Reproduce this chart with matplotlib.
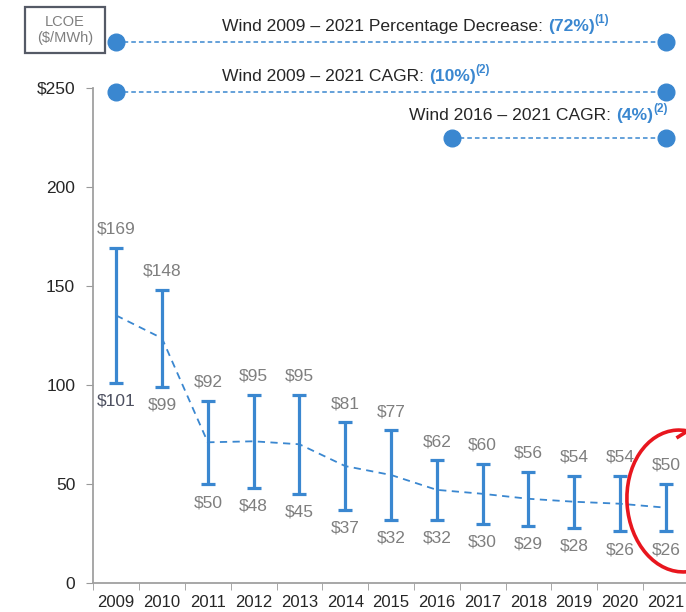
import matplotlib
matplotlib.use("Agg")
import matplotlib.pyplot as plt
import matplotlib.transforms as mtransforms
from matplotlib.patches import Ellipse, Rectangle

plt.rcParams['font.family'] = ['Liberation Sans', 'DejaVu Sans']

# LCOE range per year ($/MWh)
years = ['2009', '2010', '2011', '2012', '2013', '2014', '2015',
         '2016', '2017', '2018', '2019', '2020', '2021']
high = [169, 148, 92, 95, 95, 81, 77, 62, 60, 56, 54, 54, 50]
low = [101, 99, 50, 48, 45, 37, 32, 32, 30, 29, 28, 26, 26]
mid = [135, 123.5, 71, 71.5, 70, 59, 54.5, 47, 45, 42.5, 41, 40, 38]

yticks = [0, 50, 100, 150, 200, 250]
ytick_labels = ['0', '50', '100', '150', '200', '$250']

# summary lines above the chart: (text, value, note, start year, end year)
summary = [
    ('Wind 2009 \u2013 2021 Percentage Decrease: ', '(72%)', '(1)', 0, 12),
    ('Wind 2009 \u2013 2021 CAGR: ', '(10%)', '(2)', 0, 12),
    ('Wind 2016 \u2013 2021 CAGR: ', '(4%)', '(2)', 7.33, 12),
]

BLUE = '#3a87d0'
GRAY = '#7f7f7f'
DARK = '#262626'

fig = plt.figure(figsize=(6.86, 6.12), dpi=100)
ax = fig.add_axes([0.136, 0.0474, 0.868, 0.8095])

x = list(range(len(years)))
err_lo = [m - l for m, l in zip(mid, low)]
err_hi = [h - m for h, m in zip(high, mid)]
ax.errorbar(x, mid, yerr=[err_lo, err_hi], fmt='none', ecolor=BLUE,
            elinewidth=2.3, capsize=4.8, capthick=2.3, zorder=3)
ax.plot(x, mid, color=BLUE, lw=1.3, ls=(0, (4, 3)), zorder=2)

for i in x:
    ax.annotate('$' + str(high[i]), (i, high[i]), xytext=(0, 8),
                textcoords='offset points', ha='center', va='bottom',
                fontsize=12.5, color=GRAY)
    ax.annotate('$' + str(low[i]), (i, low[i]), xytext=(0, -8),
                textcoords='offset points', ha='center', va='top',
                fontsize=12.5, color='#4d5060' if i == 0 else GRAY)

ax.set_xlim(-0.5, 12.5)
ax.set_ylim(0, 250)
ax.set_yticks(yticks)
ax.set_yticklabels(ytick_labels)
ax.set_xticks(x)
ax.set_xticklabels(years)
ax.set_xticks([i - 0.5 for i in range(len(years) + 1)], minor=True)
ax.tick_params(axis='x', which='major', length=0, pad=9, labelsize=12, labelcolor=DARK)
ax.tick_params(axis='x', which='minor', length=5, color='#999999', direction='out')
ax.tick_params(axis='y', length=5, color='#999999', labelsize=12.5, labelcolor=DARK, pad=8)
for s in ['top', 'right']:
    ax.spines[s].set_visible(False)
for s in ['left', 'bottom']:
    ax.spines[s].set_color('#a0a0a0')
    ax.spines[s].set_linewidth(1.3)

# summary rows
trans = mtransforms.blended_transform_factory(ax.transData, ax.transAxes)
line_y = [1.093, 0.992, 0.899]
text_y = [1.123, 1.022, 0.943]
text_x = [222, 222, 409]
for k, (label, val, note, x0, x1) in enumerate(summary):
    ax.plot([x0, x1], [line_y[k], line_y[k]], transform=trans, clip_on=False,
            color=BLUE, lw=1.1, ls=(0, (3, 2)), marker='o', markersize=12,
            markerfacecolor=BLUE, markeredgecolor=BLUE, zorder=4)
    fx = text_x[k] / 686
    fy = ax.transAxes.transform((0, text_y[k]))[1] / fig.bbox.height
    t1 = fig.text(fx, fy, label, fontsize=12.6, color=DARK, va='center', ha='left')
    t2 = ax.annotate(val, xy=(1, 0), xycoords=t1, va='bottom', ha='left',
                     fontsize=12.6, color=BLUE, fontweight='bold')
    ax.annotate(note, xy=(1, 0.55), xycoords=t2, va='bottom', ha='left',
                fontsize=8.5, color=BLUE, fontweight='bold')

# unit box
fig.patches.append(Rectangle((25 / 686, 1 - 53 / 612), 80 / 686, 46 / 612,
                             transform=fig.transFigure, fill=False,
                             edgecolor='#555a66', lw=1.6))
fig.text(65 / 686, 1 - 30 / 612, 'LCOE\n($/MWh)', ha='center', va='center',
         fontsize=10.5, color=GRAY, linespacing=1.1)

# red hand-drawn circle around 2021
ov = fig.add_axes([0, 0, 1, 1], facecolor='none')
ov.set_xlim(0, 686)
ov.set_ylim(612, 0)
ov.axis('off')
ov.add_patch(Ellipse((681, 501), 108, 142, angle=-4, fill=False,
                     edgecolor='#e8161e', lw=2.6))
ov.plot([678, 686], [437, 432], color='#e8161e', lw=2.6)

fig.savefig('out.png', dpi=100)
